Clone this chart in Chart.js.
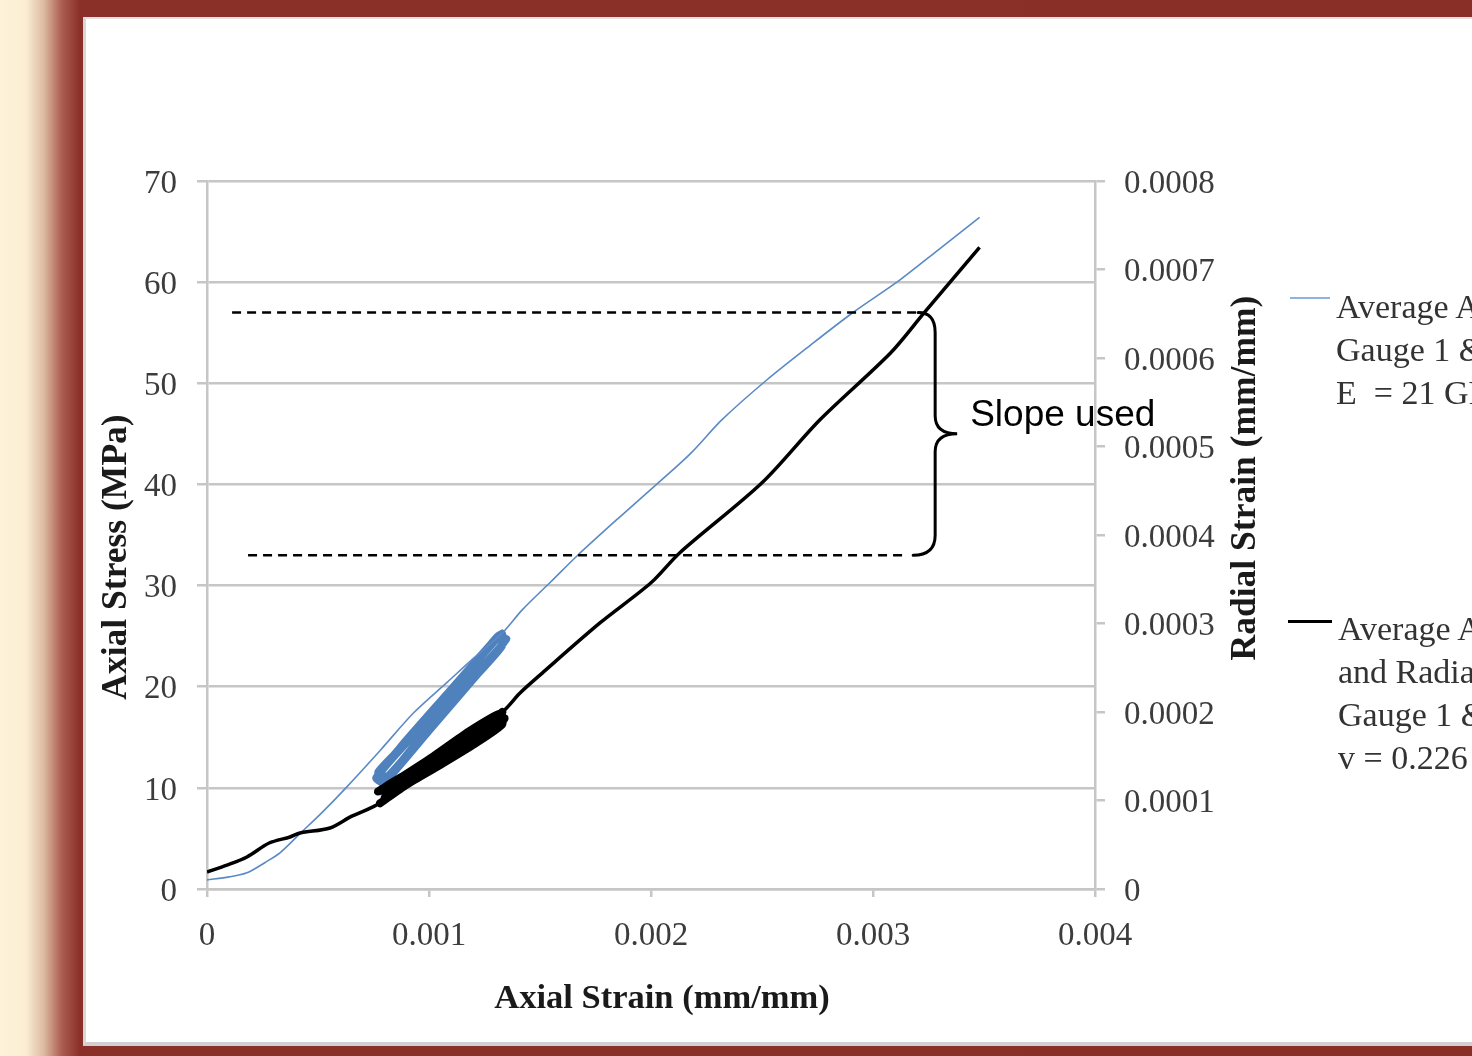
<!DOCTYPE html>
<html>
<head>
<meta charset="utf-8">
<script src="https://cdn.jsdelivr.net/npm/chart.js@4.4.0/dist/chart.umd.min.js"></script>
<style>
  html, body { margin: 0; padding: 0; width: 1472px; height: 1056px; overflow: hidden; }
  body {
    position: relative;
    background: linear-gradient(to right, #fdf3d9 0px, #fbeed2 26px, #dcb9a1 44px, #ab5c50 62px, #8b3029 80px, #8a2f28 100%);
  }
  #panel {
    position: absolute; left: 83px; top: 17px; width: 1400px; height: 1029px;
    background: #fff; box-sizing: border-box;
    border-left: 3px solid #d8d8d8; border-top: 2px solid #e2e2e2; border-bottom: 4px solid #d0d0d0;
  }
  #grafico { position: absolute; left: 0; top: 0; }
  .muestra { position: absolute; }
  .leyenda {
    position: absolute; white-space: nowrap;
    font-family: "Liberation Serif", "Times New Roman", serif;
    font-size: 34px; line-height: 43px; color: #333;
  }
</style>
</head>
<body>
<div id="panel"></div>
<canvas id="grafico" width="1472" height="1056"></canvas>

<div class="muestra" style="left:1290px; top:297px; width:40px; height:2px; background:#8fb3dc;"></div>
<div class="leyenda" style="left:1336px; top:285px;">Average Axial Strain<br>Gauge 1 &amp; 2<br>E &nbsp;= 21 GPa</div>

<div class="muestra" style="left:1288px; top:620px; width:44px; height:3px; background:#000;"></div>
<div class="leyenda" style="left:1338px; top:607px;">Average Axial<br>and Radial Strain<br>Gauge 1 &amp; 2<br>v = 0.226</div>

<script>
// ejes
const xTickLabels = ["0", "0.001", "0.002", "0.003", "0.004"];
const yTickLabels = ["0", "10", "20", "30", "40", "50", "60", "70"];
const y2TickLabels = ["0", "0.0001", "0.0002", "0.0003", "0.0004", "0.0005", "0.0006", "0.0007", "0.0008"];

// Average Axial Strain (esfuerzo axial vs deformacion axial)
const azulX = [0, 0.00010, 0.00018, 0.00026, 0.00033, 0.00042, 0.00052, 0.00063, 0.00078, 0.00093, 0.00108, 0.00120, 0.00133,
  0.00142, 0.00155, 0.00167, 0.00185, 0.00203, 0.00218, 0.00232, 0.00252, 0.00272, 0.00291, 0.00312, 0.00330, 0.00348];
const azulY = [0.9, 1.2, 1.6, 2.6, 3.6, 5.5, 7.6, 10.1, 13.7, 17.4, 20.4, 22.8, 25.3,
  27.6, 30.4, 33.0, 36.6, 40.1, 43.1, 46.4, 50.3, 53.8, 57.0, 60.2, 63.3, 66.4];

// ciclos de carga y descarga (azul)
const cicloAzulX = [0.00133, 0.00134, 0.00118, 0.00100, 0.00083, 0.00079,
  0.00076, 0.00088, 0.00108, 0.00128, 0.00132,
  0.00133, 0.00116, 0.00098, 0.00082, 0.00078,
  0.00077, 0.00090, 0.00110, 0.00130,
  0.00134, 0.00117, 0.00099, 0.00081,
  0.00078, 0.00094, 0.00112, 0.00131,
  0.00135, 0.00119, 0.00101, 0.00084, 0.00080,
  0.00079, 0.00096, 0.00114, 0.00133];
const cicloAzulY = [25.3, 24.4, 20.2, 15.6, 11.2, 10.5,
  11.0, 14.3, 19.3, 24.3, 25.2,
  24.0, 19.8, 15.3, 11.3, 10.8,
  11.6, 14.6, 19.6, 24.6,
  24.5, 20.4, 15.8, 11.0,
  11.4, 15.4, 19.9, 24.8,
  24.7, 20.5, 15.9, 11.5, 10.7,
  11.9, 16.1, 20.6, 25.3];

// Average Axial and Radial Strain (deformacion radial vs axial)
const negroX = [0, 0.00009, 0.00018, 0.00028, 0.000374, 0.000419, 0.000554, 0.00065, 0.000779,
  0.00133, 0.00141, 0.00151, 0.00177, 0.00200, 0.00213, 0.00250, 0.00276, 0.00308, 0.00323, 0.00348];
const negroY = [0.0000192, 0.000027, 0.0000362, 0.000052, 0.0000588, 0.0000633, 0.0000689, 0.000082, 0.0000972,
  0.000200, 0.0002215, 0.000244, 0.0003006, 0.000346, 0.000380, 0.000459, 0.000530, 0.000606, 0.000651, 0.000725];

const cicloNegroX = [0.00078, 0.00090, 0.00105, 0.00120, 0.00133,
  0.00132, 0.00118, 0.00102, 0.00086, 0.00077,
  0.00088, 0.00100, 0.00115, 0.00130,
  0.00134, 0.00122, 0.00108, 0.00092, 0.00079,
  0.00082, 0.00095, 0.00110, 0.00125, 0.00133,
  0.00128, 0.00112, 0.00096, 0.00080,
  0.00093, 0.00108, 0.00122, 0.00133];
const cicloNegroY = [0.000097, 0.000118, 0.000140, 0.000163, 0.000186,
  0.000198, 0.000178, 0.000150, 0.000124, 0.000110,
  0.000120, 0.000136, 0.000160, 0.000182,
  0.000193, 0.000182, 0.000157, 0.000133, 0.000113,
  0.000108, 0.000126, 0.000152, 0.000172, 0.000196,
  0.000192, 0.000164, 0.000139, 0.000103,
  0.000130, 0.000146, 0.000176, 0.000200];

// lineas punteadas y llave "Slope used"
const punteadaSupX = [0.000113, 0.00320];
const punteadaSupY = [57.0, 57.0];
const punteadaInfX = [0.000185, 0.003144];
const punteadaInfY = [33.0, 33.0];
const llaveX = 0.00328;
const llaveArriba = 57.0;
const llaveAbajo = 33.0;

const gris = "#c6c6c6";
const fuenteTicks = { family: "'Liberation Serif', 'Times New Roman', serif", size: 33 };

function puntos(xs, ys) {
  return xs.map((x, i) => ({ x: x, y: ys[i] }));
}

const extras = {
  id: "extras",
  afterDraw(chart) {
    const ctx = chart.ctx;
    const sx = chart.scales.x;
    const sy = chart.scales.y;
    const bx = sx.getPixelForValue(llaveX);
    const yt = sy.getPixelForValue(llaveArriba);
    const yb = sy.getPixelForValue(llaveAbajo);
    const ym = (yt + yb) / 2;
    ctx.save();
    ctx.strokeStyle = "#000";
    ctx.lineWidth = 3;
    ctx.lineCap = "round";
    ctx.beginPath();
    ctx.moveTo(bx - 17, yt);
    ctx.quadraticCurveTo(bx, yt, bx, yt + 20);
    ctx.lineTo(bx, ym - 18);
    ctx.quadraticCurveTo(bx, ym, bx + 22, ym);
    ctx.quadraticCurveTo(bx, ym, bx, ym + 18);
    ctx.lineTo(bx, yb - 20);
    ctx.quadraticCurveTo(bx, yb, bx - 22, yb);
    ctx.stroke();

    ctx.fillStyle = "#000";
    ctx.font = "37px 'Liberation Sans', Arial, sans-serif";
    ctx.textAlign = "left";
    ctx.textBaseline = "alphabetic";
    ctx.fillText("Slope used", bx + 35, ym - 8);

    // titulos de ejes
    ctx.fillStyle = "#1a1a1a";
    ctx.font = "bold 34.5px 'Liberation Serif', 'Times New Roman', serif";
    ctx.textAlign = "center";
    ctx.textBaseline = "middle";
    ctx.fillText("Axial Strain (mm/mm)", 662, 999);
    ctx.font = "bold 35.5px 'Liberation Serif', 'Times New Roman', serif";
    ctx.save();
    ctx.translate(117, 557);
    ctx.rotate(-Math.PI / 2);
    ctx.fillText("Axial Stress (MPa)", 0, 0);
    ctx.restore();
    ctx.save();
    ctx.translate(1246, 478);
    ctx.rotate(-Math.PI / 2);
    ctx.fillText("Radial Strain (mm/mm)", 0, 0);
    ctx.restore();
    ctx.restore();
  }
};

const linea = { showLine: true, pointRadius: 0, fill: false, tension: 0.3 };
const ciclo = { showLine: true, pointRadius: 0, fill: false, tension: 0.2, borderJoinStyle: "round", borderCapStyle: "round" };
const recta = { showLine: true, pointRadius: 0, fill: false, tension: 0 };

new Chart(document.getElementById("grafico"), {
  type: "scatter",
  data: {
    datasets: [
      Object.assign({ label: "sup", data: puntos(punteadaSupX, punteadaSupY), yAxisID: "y",
        borderColor: "#000", borderWidth: 2.5, borderDash: [9, 6] }, recta),
      Object.assign({ label: "inf", data: puntos(punteadaInfX, punteadaInfY), yAxisID: "y",
        borderColor: "#000", borderWidth: 2.5, borderDash: [9, 6] }, recta),
      Object.assign({ label: "Average Axial and Radial Strain Gauge 1 & 2", data: puntos(negroX, negroY), yAxisID: "y2",
        borderColor: "#000", borderWidth: 3.5 }, linea),
      Object.assign({ label: "ciclo negro", data: puntos(cicloNegroX, cicloNegroY), yAxisID: "y2",
        borderColor: "#000", borderWidth: 8 }, ciclo),
      Object.assign({ label: "Average Axial Strain Gauge 1 & 2", data: puntos(azulX, azulY), yAxisID: "y",
        borderColor: "#5a8ac6", borderWidth: 1.6 }, linea),
      Object.assign({ label: "ciclo azul", data: puntos(cicloAzulX, cicloAzulY), yAxisID: "y",
        borderColor: "#4f81bd", borderWidth: 7 }, ciclo)
    ]
  },
  options: {
    responsive: false,
    animation: false,
    layout: { padding: { left: 90, top: 181, right: 197, bottom: 30 } },
    plugins: { legend: { display: false }, tooltip: { enabled: false } },
    scales: {
      x: {
        type: "linear", min: 0, max: 0.004,
        ticks: { stepSize: 0.001, color: "#3c3c3c", font: fuenteTicks, padding: 20, maxRotation: 0,
          callback: (v, i) => xTickLabels[i] },
        grid: { drawOnChartArea: false, tickLength: 8, color: gris, lineWidth: 2.5 },
        border: { color: gris, width: 2.5 },
        afterFit(s) { s.height = 137; }
      },
      y: {
        position: "left", min: 0, max: 70,
        ticks: { stepSize: 10, color: "#3c3c3c", font: fuenteTicks, padding: 20, labelOffset: 3,
          callback: (v, i) => yTickLabels[i] },
        grid: { color: gris, lineWidth: 2.5, tickLength: 10 },
        border: { color: gris, width: 2.5 },
        afterFit(s) { s.width = 117; }
      },
      y2: {
        position: "right", min: 0, max: 0.0008,
        ticks: { stepSize: 0.0001, color: "#3c3c3c", font: fuenteTicks, padding: 19, labelOffset: 3,
          callback: (v, i) => y2TickLabels[i] },
        grid: { drawOnChartArea: false, tickLength: 10, color: gris, lineWidth: 2.5 },
        border: { color: gris, width: 2.5 },
        afterFit(s) { s.width = 180; }
      }
    }
  },
  plugins: [extras]
});
</script>
</body>
</html>
